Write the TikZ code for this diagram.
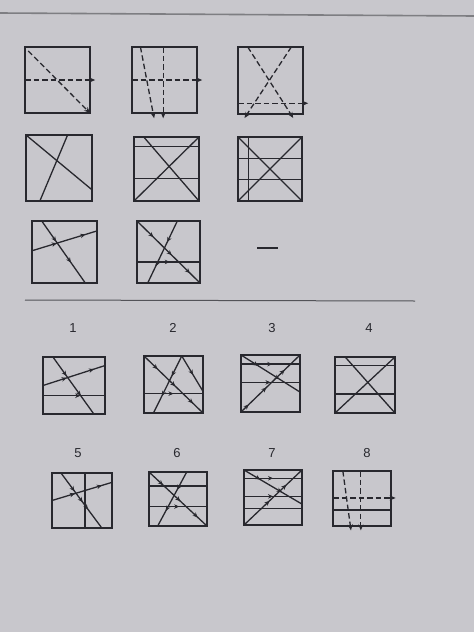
\documentclass[tikz,border=0pt]{standalone}
\usepackage{fontspec}
\setmainfont{Liberation Sans}
\usetikzlibrary{arrows.meta,decorations.markings}
\definecolor{screen}{RGB}{200,199,204}
\definecolor{ink}{RGB}{40,40,46}
\tikzset{frame/.style={draw=ink,line width=1.6pt},
  fold/.style={draw=ink,line width=1.3pt},
  foldd/.style={fold,dash pattern=on 5.5pt off 3pt},
  tip/.style={-{Stealth[length=6pt,width=5pt]}},
  mk/.style={postaction={decorate,decoration={markings,
      mark=at position #1 with {\arrow{Stealth[length=5pt,width=4.5pt]}}}}},
  num/.style={font=\fontsize{13}{15}\selectfont,text=ink}}

\begin{document}
\begin{tikzpicture}[x=1pt,y=-1pt]
        % Screen background
        \fill[screen] (0,0) rectangle (474,632);
        \useasboundingbox (0,0) rectangle (474,632);
        \draw[ink!60,line width=1.6pt] (0,13) -- (474,16);
        % Row 1 of the matrix
        \begin{scope}[shift={(25,47)},x=65pt,y=-66pt]
            \draw[frame] (0,0) rectangle (1,1);
            \draw[foldd,tip] (0.05,0.06) -- (1,1);
            \draw[foldd,tip] (0,0.5) -- (1.08,0.5);
        \end{scope}
        \begin{scope}[shift={(132,47)},x=65pt,y=-66pt]
            \draw[frame] (0,0) rectangle (1,1);
            \draw[foldd,tip] (0.13,0) -- (0.34,1.08);
            \draw[foldd,tip] (0.48,0) -- (0.48,1.08);
            \draw[foldd,tip] (0,0.5) -- (1.08,0.5);
        \end{scope}
        \begin{scope}[shift={(238,47)},x=65pt,y=-67pt]
            \draw[frame] (0,0) rectangle (1,1);
            \draw[foldd,tip] (0.15,0) -- (0.85,1.06);
            \draw[foldd,tip] (0.82,0) -- (0.1,1.06);
            \draw[foldd,tip] (0,0.84) -- (1.08,0.84);
        \end{scope}
        % Row 2 of the matrix
        \begin{scope}[shift={(26,135)},x=66pt,y=-66pt]
            \draw[frame] (0,0) rectangle (1,1);
            \draw[fold] (0,0) -- (1,0.83);
            \draw[fold] (0.63,0) -- (0.21,1);
        \end{scope}
        \begin{scope}[shift={(134,137)},x=65pt,y=-64pt]
            \draw[frame] (0,0) rectangle (1,1);
            \draw[fold] (0.15,0) -- (1,1);
            \draw[fold] (0,1) -- (1,0);
            \draw[fold] (0,0.15) -- (1,0.15);
            \draw[fold] (0,0.65) -- (1,0.65);
        \end{scope}
        \begin{scope}[shift={(238,137)},x=64pt,y=-64pt]
            \draw[frame] (0,0) rectangle (1,1);
            \draw[fold] (0.16,0) -- (0.16,1);
            \draw[fold] (0,0.34) -- (1,0.34);
            \draw[fold] (0,0.66) -- (1,0.66);
            \draw[fold] (0,0) -- (1,1);
            \draw[fold] (0,1) -- (1,0);
        \end{scope}
        % Row 3 of the matrix
        \begin{scope}[shift={(32,221)},x=65pt,y=-62pt]
            \draw[frame] (0,0) rectangle (1,1);
            \draw[fold,mk=0.33,mk=0.67] (0.15,0) -- (0.82,1);
            \draw[fold,mk=0.38,mk=0.82] (0,0.48) -- (1,0.16);
        \end{scope}
        \begin{scope}[shift={(137,221)},x=63pt,y=-62pt]
            \draw[frame] (0,0) rectangle (1,1);
            \draw[fold,mk=0.26,mk=0.55,mk=0.84] (0,0) -- (1,1);
            \draw[fold,mk=0.34,mk=0.73] (0.64,0) -- (0.17,1);
            \draw[fold,mk=0.52] (0,0.66) -- (1,0.66);
        \end{scope}
        % Missing cell and divider
        \draw[ink,line width=1.2pt] (257,248) -- (278,248);
        \draw[ink!80,line width=1pt] (25,300) -- (415,301);
        % Answer numbers
        \node[num] (n1) at (73,328) {1};
        \node[num] (n2) at (173,328) {2};
        \node[num] (n3) at (272,328) {3};
        \node[num] (n4) at (369,328) {4};
        \node[num] (n5) at (78,453) {5};
        \node[num] (n6) at (177,453) {6};
        \node[num] (n7) at (272,453) {7};
        \node[num] (n8) at (367,453) {8};
        % Answers 1 to 4
        \begin{scope}[shift={(43,357)},x=62pt,y=-57pt]
            \draw[frame] (0,0) rectangle (1,1);
            \draw[fold,mk=0.33,mk=0.68] (0.16,0) -- (0.82,1);
            \draw[fold,mk=0.38,mk=0.82] (0,0.5) -- (1,0.15);
            \draw[fold,mk=0.6] (0,0.68) -- (1,0.68);
        \end{scope}
        \begin{scope}[shift={(144,356)},x=59pt,y=-57pt]
            \draw[frame] (0,0) rectangle (1,1);
            \draw[fold,mk=0.23,mk=0.53,mk=0.83] (0,0) -- (1,1);
            \draw[fold,mk=0.35,mk=0.7] (0.64,0) -- (0.16,1);
            \draw[fold,mk=0.53] (0.64,0) -- (1,0.62);
            \draw[fold,mk=0.5] (0,0.66) -- (1,0.66);
        \end{scope}
        \begin{scope}[shift={(241,355)},x=59pt,y=-57pt]
            \draw[frame] (0,0) rectangle (1,1);
            \draw[fold,mk=0.53] (0,0.16) -- (1,0.16);
            \draw[fold,mk=0.5] (0,0.48) -- (1,0.48);
            \draw[fold,mk=0.29,mk=0.65] (0,0) -- (1,0.65);
            \draw[fold,mk=0.13,mk=0.43,mk=0.74] (0,1) -- (1,0);
        \end{scope}
        \begin{scope}[shift={(335,357)},x=60pt,y=-56pt]
            \draw[frame] (0,0) rectangle (1,1);
            \draw[fold] (0,0.15) -- (1,0.15);
            \draw[fold] (0,0.66) -- (1,0.66);
            \draw[fold] (0.17,0) -- (1,1);
            \draw[fold] (0,1) -- (1,0);
        \end{scope}
        % Answers 5 to 8
        \begin{scope}[shift={(52,473)},x=60pt,y=-55pt]
            \draw[frame] (0,0) rectangle (1,1);
            \draw[fold] (0.55,0) -- (0.55,1);
            \draw[fold,mk=0.33,mk=0.53,mk=0.66] (0.15,0) -- (0.83,1);
            \draw[fold,mk=0.38,mk=0.83] (0,0.5) -- (1,0.17);
        \end{scope}
        \begin{scope}[shift={(149,472)},x=58pt,y=-54pt]
            \draw[frame] (0,0) rectangle (1,1);
            \draw[fold] (0,0.26) -- (1,0.26);
            \draw[fold,mk=0.52] (0,0.64) -- (1,0.64);
            \draw[fold,mk=0.24,mk=0.54,mk=0.84] (0,0) -- (1,1);
            \draw[fold,mk=0.33,mk=0.72] (0.65,0) -- (0.15,1);
        \end{scope}
        \begin{scope}[shift={(244,470)},x=58pt,y=-55pt]
            \draw[frame] (0,0) rectangle (1,1);
            \draw[fold,mk=0.5] (0,0.15) -- (1,0.15);
            \draw[fold,mk=0.5] (0,0.48) -- (1,0.48);
            \draw[fold] (0,0.7) -- (1,0.7);
            \draw[fold,mk=0.28,mk=0.65] (0,0) -- (1,0.62);
            \draw[fold,mk=0.44,mk=0.73] (0,1) -- (1,0);
        \end{scope}
        \begin{scope}[shift={(333,471)},x=58pt,y=-55pt]
            \draw[frame] (0,0) rectangle (1,1);
            \draw[foldd,tip] (0.17,0) -- (0.31,1.08);
            \draw[foldd,tip] (0.48,0) -- (0.48,1.08);
            \draw[foldd,tip] (0,0.49) -- (1.08,0.49);
            \draw[fold] (0,0.71) -- (1,0.71);
        \end{scope}
\end{tikzpicture}
\end{document}
